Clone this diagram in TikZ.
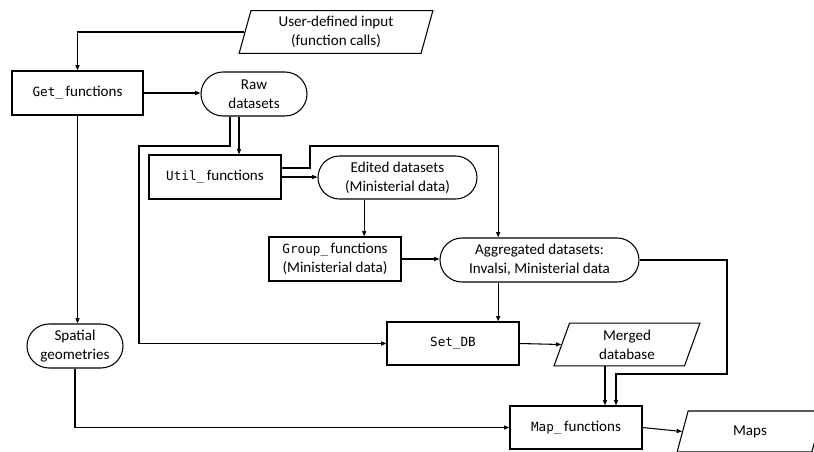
\documentclass[tikz,border=0pt]{standalone}
\usepackage{fontspec}
\setmainfont{Carlito}
\setmonofont[Scale=0.84]{DejaVu Sans Mono}
\usetikzlibrary{arrows.meta,shapes.geometric,shapes.misc}

\begin{document}
\begin{tikzpicture}[x=0.75pt, y=-0.75pt, >={Triangle[length=4pt,width=3pt]},
  every node/.style={font=\fontsize{11.3}{14.5}\selectfont, align=center, inner sep=0pt},
  func/.style={draw, line width=0.8pt, rectangle, minimum width=99pt, minimum height=33pt},
  data/.style={draw, line width=0.8pt, rounded rectangle, minimum height=33pt},
  io/.style={draw, line width=0.8pt, trapezium, trapezium left angle=76,
    trapezium right angle=104, trapezium stretches=true, minimum width=109.5pt, minimum height=32pt},
  flow/.style={->, line width=0.8pt}]
  \useasboundingbox (0,0) rectangle (814,451);
  % Input and download
  \node[io, minimum width=145.5pt] (input) at (336,32) {User-defined input\\(function calls)};
  \node[func, minimum width=98.25pt] (get) at (77.5,93) {\texttt{Get\_}\,functions};
  \node[data, minimum width=79.5pt] (raw) at (254,94) {Raw\\datasets};
  \node[data, minimum width=72pt] (spatial) at (75,346) {Spatial\\geometries};
  % Cleaning and aggregation
  \node[func] (util) at (215,177) {\texttt{Util\_}\,functions};
  \node[data, minimum width=119.25pt, minimum height=32.25pt] (edited) at (397.5,177.5) {Edited datasets\\(Ministerial data)};
  \node[func] (group) at (335,259) {\texttt{Group\_}\,functions\\(Ministerial data)};
  \node[data, minimum width=149.25pt] (agg) at (539.5,260) {Aggregated datasets:\\Invalsi, Ministerial data};
  % Database and maps
  \node[func, minimum height=32.25pt] (setdb) at (453,343.5) {\texttt{Set\_DB}};
  \node[io] (merged) at (627,344.5) {Merged\\database};
  \node[func, minimum height=32.25pt] (map) at (576,427.5) {\texttt{Map\_}\,functions};
  \node[io, minimum height=30.75pt] (maps) at (750,431.5) {Maps};

  \draw[flow] (input.west) -| (get.north);
  \draw[flow] (get.east) -- (get.east -| raw.west);
  \draw[flow] (get.south) -- (get.south |- spatial.north);
  \draw[flow] ([xshift=-18pt]raw.south) |- (139,146) |- (setdb.west);
  \draw[flow] ([xshift=-11.25pt]raw.south) -- ([xshift=-11.25pt]raw.south |- util.north);
  \draw[flow] (util.east) -- (util.east -| edited.west);
  \draw[flow] ([yshift=6.75pt]util.east) -| (310,146) -| ([xshift=-31pt]agg.north);
  \draw[flow] ([xshift=-25pt]edited.south) -- ([xshift=-25pt]edited.south |- group.north);
  \draw[flow] (group.east) -- (group.east -| agg.west);
  \draw[flow] ([xshift=-31pt]agg.south) -- ([xshift=-31pt]agg.south |- setdb.north);
  \draw[flow] (agg.east) -| (727,374) -| ([xshift=30pt]map.north);
  \draw[flow] (setdb.east) -- (merged.west);
  \draw[flow] ([xshift=-16.5pt]merged.south) -- ([xshift=-16.5pt]merged.south |- map.north);
  \draw[flow] (spatial.south) |- (map.west);
  \draw[flow] (map.east) -- (maps.west);
\end{tikzpicture}
\end{document}
